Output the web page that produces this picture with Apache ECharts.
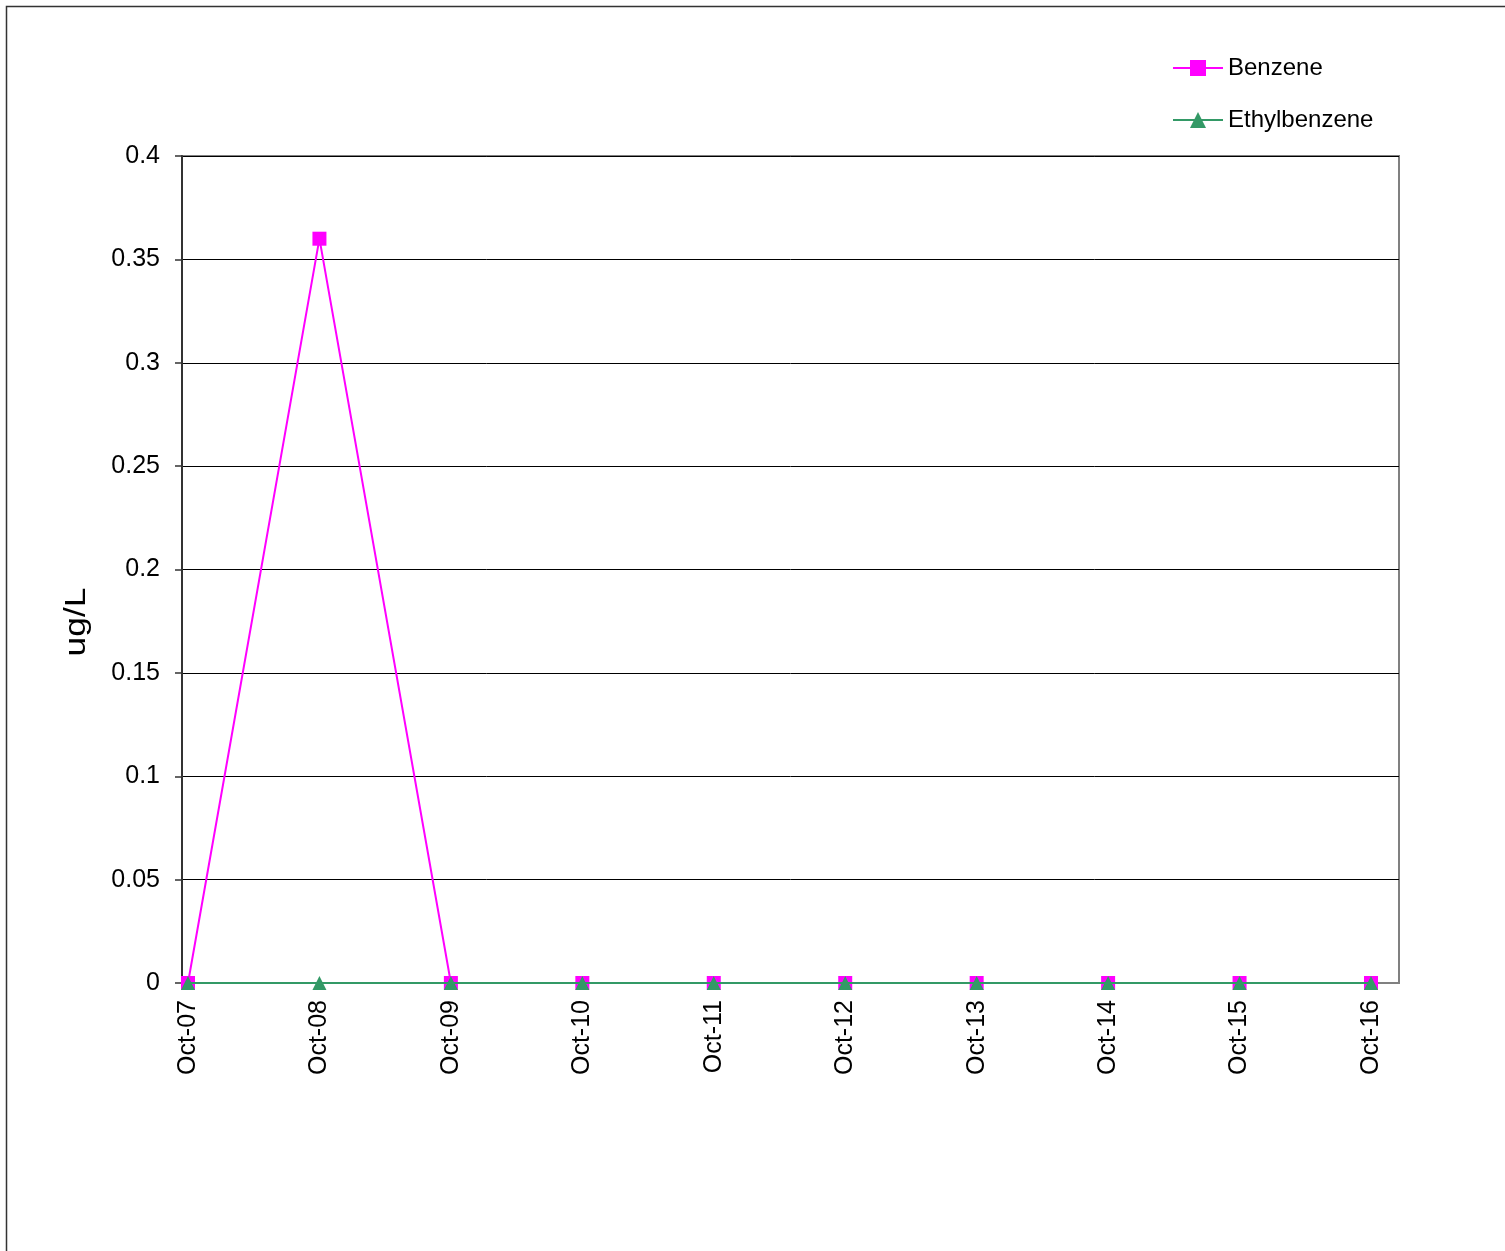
<!DOCTYPE html>
<html><head><meta charset="utf-8">
<script src="https://cdn.jsdelivr.net/npm/echarts@6/dist/echarts.min.js"></script>
<style>html,body{margin:0;padding:0;background:#fff}#c{width:1505px;height:1251px}</style>
</head><body><div id="c"></div>
<script>
const categories = ['Oct-07','Oct-08','Oct-09','Oct-10','Oct-11','Oct-12','Oct-13','Oct-14','Oct-15','Oct-16'];
const benzene = [0, 0.36, 0, 0, 0, 0, 0, 0, 0, 0];
const ethylbenzene = [0, 0, 0, 0, 0, 0, 0, 0, 0, 0];
const yTicks = [0, 0.05, 0.1, 0.15, 0.2, 0.25, 0.3, 0.35, 0.4];

const idx = categories.map((c, i) => i);
const font = 'Liberation Sans, Arial, sans-serif';
const chart = echarts.init(document.getElementById('c'));
chart.setOption({
  animation: false,
  backgroundColor: '#fff',
  graphic: [
    {type: 'rect', shape: {x: 6.5, y: 6.5, width: 1600, height: 1400}, style: {fill: 'none', stroke: '#333', lineWidth: 1.5}, z: -1},
    {type: 'text', x: 77, y: 622, rotation: Math.PI / 2, scaleX: 1.22, style: {text: 'ug/L', font: '29px ' + font, fill: '#000', align: 'center', verticalAlign: 'middle'}}
  ],
  legend: {
    orient: 'vertical', left: 1172, top: 56, padding: 0, itemWidth: 50, itemHeight: 20, itemGap: 28,
    textStyle: {fontFamily: font, fontSize: 24, color: '#000', padding: [0, 0, 0, 0]},
    data: ['Benzene', 'Ethylbenzene']
  },
  grid: {left: 182, top: 156, width: 1217, height: 827, show: true, borderColor: '#808080', borderWidth: 2, backgroundColor: 'transparent'},
  xAxis: {
    type: 'value', min: -0.0456, max: 9.213,
    axisLine: {show: true, onZero: false, lineStyle: {color: '#808080', width: 2}},
    axisTick: {show: false},
    splitLine: {show: false},
    axisLabel: {
      customValues: idx, rotate: 90, margin: 17,
      fontFamily: font, fontSize: 25, color: '#000',
      formatter: v => categories[Math.round(v)]
    }
  },
  yAxis: {
    type: 'value', min: 0, max: 0.4, interval: 0.05,
    axisLine: {show: true, onZero: false, lineStyle: {color: '#333', width: 2}},
    axisTick: {show: true, length: 7, lineStyle: {color: '#333', width: 1.5}},
    splitLine: {show: true, lineStyle: {color: '#000', width: 1}},
    axisLabel: {margin: 22, fontFamily: font, fontSize: 25, color: '#000', formatter: v => String(+v.toFixed(2))}
  },
  series: [
    {name: 'Benzene', type: 'line', data: idx.map(i => [i, benzene[i]]), symbol: 'rect', symbolSize: 14,
     lineStyle: {color: '#FF00FF', width: 2}, itemStyle: {color: '#FF00FF'}, z: 2},
    {name: 'Ethylbenzene', type: 'line', data: idx.map(i => [i, ethylbenzene[i]]), symbol: 'triangle', symbolSize: 14,
     lineStyle: {color: '#339966', width: 2}, itemStyle: {color: '#339966'}, z: 3}
  ]
});
</script></body></html>
